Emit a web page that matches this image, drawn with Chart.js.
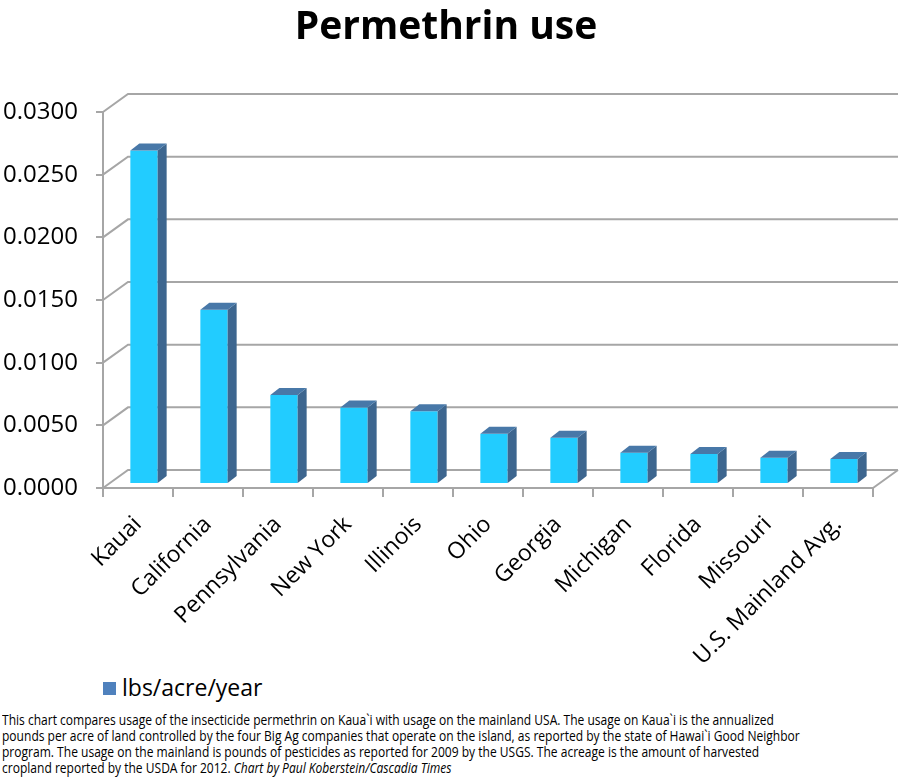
<!DOCTYPE html>
<html>
<head>
<meta charset="utf-8">
<script src="https://cdn.jsdelivr.net/npm/chart.js@4.4.1/dist/chart.umd.min.js"></script>
<style>
  body { margin: 0; background: #fff; }
  #wrap { position: relative; width: 907px; height: 782px; overflow: hidden; }
  #title { position: absolute; left: 0; top: 1px; width: 892px; text-align: center; font: bold 39px/46px "Open Sans", sans-serif; color: #000; }
  #legend { position: absolute; left: 103px; top: 671px; font: 23px "Open Sans", sans-serif; color: #000; }
  #legend span.box { display: inline-block; width: 13px; height: 13px; background: #4F81BD; margin-right: 6px; vertical-align: 1px; }
  #note { position: absolute; left: 2px; top: 712px; font: 14px "Open Sans", sans-serif; line-height: 16px; color: #000;
          white-space: nowrap; transform: scaleX(0.86); transform-origin: 0 0; }
</style>
</head>
<body>
<div id="wrap">
  <canvas id="permethrinChart" width="907" height="670"></canvas>
  <div id="title">Permethrin use</div>
  <div id="legend"><span class="box"></span>lbs/acre/year</div>
  <div id="note">This chart compares usage of the insecticide permethrin on Kaua`i with usage on the mainland USA. The usage on Kaua`i is the annualized<br>pounds per acre of land controlled by the four Big Ag companies that operate on the island, as reported by the state of Hawai`i Good Neighbor<br>program. The usage on the mainland is pounds of pesticides as reported for 2009 by the USGS. The acreage is the amount of harvested<br>cropland reported by the USDA for 2012. <i>Chart by Paul Koberstein/Cascadia Times</i></div>
</div>
<script>
// values
const states = ['Kauai', 'California', 'Pennsylvania', 'New York', 'Illinois', 'Ohio', 'Georgia', 'Michigan', 'Florida', 'Missouri', 'U.S. Mainland Avg.'];
const lbsPerAcre = [0.0266, 0.0139, 0.0071, 0.0061, 0.0058, 0.0040, 0.0037, 0.0025, 0.0024, 0.0021, 0.0020];
const yTicks = [0, 0.005, 0.01, 0.015, 0.02, 0.025, 0.03];

const gridColor = '#a6a6a6';
const depth = { dx: 25, dy: -18 };     // back wall offset
const barShift = { dx: 6, dy: -4 };    // bars sit a little behind the front edge
const barSide = { dx: 9, dy: -7 };     // thickness of the bar

// fake 3d box: back wall, left wall and floor lines
const walls = {
  id: 'walls',
  beforeDatasetsDraw(chart) {
    const { ctx, chartArea: a, scales: { y } } = chart;
    ctx.save();
    ctx.strokeStyle = gridColor;
    ctx.lineWidth = 2;
    ctx.beginPath();
    yTicks.forEach(v => {
      const py = y.getPixelForValue(v);
      ctx.moveTo(a.left, py);
      ctx.lineTo(a.left + depth.dx, py + depth.dy);
      ctx.lineTo(a.right + depth.dx, py + depth.dy);
    });
    ctx.moveTo(a.right, a.bottom);
    ctx.lineTo(a.right + depth.dx, a.bottom + depth.dy);
    ctx.stroke();
    ctx.restore();

    ctx.save();
    ctx.translate(barShift.dx, barShift.dy);
  },
  afterDatasetsDraw(chart) {
    const { ctx } = chart;
    chart.getDatasetMeta(0).data.forEach(bar => {
      const { x, y, base, width } = bar.getProps(['x', 'y', 'base', 'width'], true);
      const l = x - width / 2, r = x + width / 2;
      ctx.fillStyle = '#3d668f';
      ctx.beginPath();
      ctx.moveTo(r, y);
      ctx.lineTo(r + barSide.dx, y + barSide.dy);
      ctx.lineTo(r + barSide.dx, base + barSide.dy);
      ctx.lineTo(r, base);
      ctx.closePath();
      ctx.fill();
      ctx.fillStyle = '#4878a8';
      ctx.beginPath();
      ctx.moveTo(l, y);
      ctx.lineTo(l + barSide.dx, y + barSide.dy);
      ctx.lineTo(r + barSide.dx, y + barSide.dy);
      ctx.lineTo(r, y);
      ctx.closePath();
      ctx.fill();
    });
    ctx.restore();
  }
};

new Chart(document.getElementById('permethrinChart'), {
  type: 'bar',
  data: {
    labels: states,
    datasets: [{
      label: 'lbs/acre/year',
      data: lbsPerAcre,
      backgroundColor: '#22ccff',
      barPercentage: 0.39,
      categoryPercentage: 1
    }]
  },
  options: {
    responsive: false,
    animation: false,
    layout: { padding: { right: 34, top: 112, left: 0, bottom: 0 } },
    plugins: {
      legend: { display: false },
      tooltip: { enabled: false },
      title: { display: false }
    },
    scales: {
      x: {
        afterFit: s => { s.height = 670 - 488; },
        grid: { display: true, offset: true, drawOnChartArea: false, tickLength: 9, color: gridColor, lineWidth: 2 },
        border: { display: true, color: gridColor, width: 2 },
        ticks: { color: '#000', font: { family: 'Open Sans', size: 23 }, maxRotation: 45, minRotation: 45, padding: 14 }
      },
      y: {
        min: 0,
        max: 0.03,
        afterFit: s => { s.width = 103; },
        afterBuildTicks: s => { s.ticks = yTicks.map(v => ({ value: v })); },
        grid: { display: true, drawOnChartArea: false, tickLength: 7, color: gridColor, lineWidth: 2 },
        border: { display: true, color: gridColor, width: 2 },
        ticks: { color: '#000', font: { family: 'Open Sans', size: 24 }, padding: 18, callback: v => v.toFixed(4) }
      }
    }
  },
  plugins: [walls]
});
</script>
</body>
</html>
